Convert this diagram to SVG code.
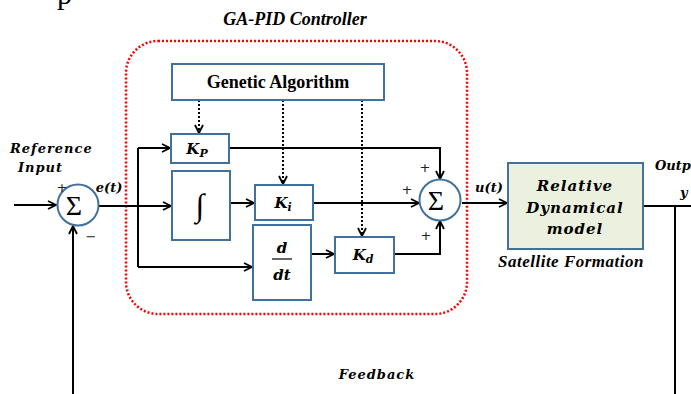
<svg xmlns="http://www.w3.org/2000/svg" width="691" height="394" viewBox="0 0 691 394">
<defs>
<marker id="arr" viewBox="0 0 10 10" refX="9" refY="5" markerWidth="10" markerHeight="10" markerUnits="userSpaceOnUse" orient="auto">
<path d="M1,1 L9,5 L1,9" fill="none" stroke="#000" stroke-width="1.8"/>
</marker>
</defs>
<style>
.blk{fill:#fff;stroke:#41719C;stroke-width:2}
.plant{fill:#EBF1DE;stroke:#41719C;stroke-width:2}
.ln{fill:none;stroke:#000;stroke-width:2}
.dot{fill:none;stroke:#000;stroke-width:2;stroke-dasharray:2,2}
.bi{font-family:"Liberation Serif",serif;font-weight:bold;font-style:italic}
.m{font-family:"DejaVu Serif",serif;font-weight:bold;font-style:italic}
.pl{font-family:"DejaVu Sans",sans-serif;font-size:13px;fill:#222}
</style>
<rect width="691" height="394" fill="#fff"/>
<text x="57" y="4" font-family="Liberation Serif,serif" font-size="30">p</text>
<text x="295" y="25" class="bi" font-size="18" text-anchor="middle">GA-PID Controller</text>
<rect x="126" y="41" width="341" height="273" rx="32" fill="none" stroke="#FF0000" stroke-width="2.5" stroke-dasharray="2,2"/>

<g id="connectors">
<path class="ln" d="M14,205 H56" marker-end="url(#arr)"/>
<path class="ln" d="M99,206 H171" marker-end="url(#arr)"/>
<path class="ln" d="M138,148 V267"/>
<path class="ln" d="M138,148 H170" marker-end="url(#arr)"/>
<path class="ln" d="M138,267 H252" marker-end="url(#arr)"/>
<path class="ln" d="M230,203 H254" marker-end="url(#arr)"/>
<path class="ln" d="M229,148 H440 V179" marker-end="url(#arr)"/>
<path class="ln" d="M313,203 H419" marker-end="url(#arr)"/>
<path class="ln" d="M311,254 H334" marker-end="url(#arr)"/>
<path class="ln" d="M394,254 H440 V221" marker-end="url(#arr)"/>
<path class="ln" d="M462,203 H507" marker-end="url(#arr)"/>
<path class="ln" d="M643,206 H691"/>
<path class="ln" d="M675,206 V394"/>
<path class="ln" d="M73,394 V226" marker-end="url(#arr)"/>
<path class="dot" d="M199,100 V133" marker-end="url(#arr)"/>
<path class="dot" d="M283,100 V184" marker-end="url(#arr)"/>
<path class="dot" d="M362,100 V236" marker-end="url(#arr)"/>
</g>

<g id="ga">
<rect class="blk" x="172" y="64" width="212" height="36"/>
<text x="278" y="88" font-family="Liberation Serif,serif" font-weight="bold" font-size="18" text-anchor="middle">Genetic Algorithm</text>
</g>
<g id="kp">
<rect class="blk" x="171" y="134" width="58" height="29"/>
<text x="197" y="154" class="m" font-size="15" text-anchor="middle">K<tspan font-size="11" dy="3">P</tspan></text>
</g>
<g id="integ">
<rect class="blk" x="172" y="171" width="58" height="69"/>
<text x="200" y="216" font-family="Liberation Serif,serif" font-size="32" text-anchor="middle">∫</text>
</g>
<g id="ki">
<rect class="blk" x="255" y="185" width="58" height="35"/>
<text x="283" y="208" class="m" font-size="15" text-anchor="middle">K<tspan font-size="11" dy="3">i</tspan></text>
</g>
<g id="deriv">
<rect class="blk" x="253" y="225" width="58" height="75"/>
<text x="282" y="253" class="m" font-size="15" text-anchor="middle">d</text>
<line x1="272" y1="259" x2="292" y2="259" stroke="#000" stroke-width="1.2"/>
<text x="282" y="280" class="m" font-size="15" text-anchor="middle">dt</text>
</g>
<g id="kd">
<rect class="blk" x="335" y="237" width="59" height="36"/>
<text x="363" y="260" class="m" font-size="15" text-anchor="middle">K<tspan font-size="11" dy="3">d</tspan></text>
</g>
<g id="sum1">
<circle cx="78" cy="205" r="20.5" fill="#fff" stroke="#41719C" stroke-width="2"/>
<text x="74" y="215" font-family="Liberation Serif,serif" font-size="28" text-anchor="middle">Σ</text>
<text x="62" y="192" class="pl" text-anchor="middle">+</text>
<text x="91" y="241" class="pl" text-anchor="middle">−</text>
<text x="109" y="192" class="m" font-size="13" text-anchor="middle">e(t)</text>
</g>
<g id="sum2">
<circle cx="440" cy="200" r="20.5" fill="#fff" stroke="#41719C" stroke-width="2"/>
<text x="436" y="210" font-family="Liberation Serif,serif" font-size="28" text-anchor="middle">Σ</text>
<text x="425" y="172" class="pl" text-anchor="middle">+</text>
<text x="407" y="194" class="pl" text-anchor="middle">+</text>
<text x="426" y="240" class="pl" text-anchor="middle">+</text>
<text x="489" y="192" class="m" font-size="13" text-anchor="middle">u(t)</text>
</g>
<g id="plant">
<rect class="plant" x="508" y="163" width="135" height="86"/>
<text x="575" y="191" class="m" font-size="15" letter-spacing="1" text-anchor="middle">Relative</text>
<text x="575" y="213" class="m" font-size="15" letter-spacing="1" text-anchor="middle">Dynamical</text>
<text x="575" y="234" class="m" font-size="15" letter-spacing="1" text-anchor="middle">model</text>
<text x="571" y="267" class="bi" font-size="17" letter-spacing="0.5" text-anchor="middle">Satellite Formation</text>
</g>
<text x="10" y="153" class="m" font-size="13" letter-spacing="1">Reference</text>
<text x="18" y="172" class="m" font-size="13" letter-spacing="1">Input</text>
<text x="655" y="170" class="m" font-size="13">Outp</text>
<text x="680" y="197" class="m" font-size="13">y</text>
<text x="377" y="379" class="m" font-size="13" letter-spacing="1" text-anchor="middle">Feedback</text>
</svg>
